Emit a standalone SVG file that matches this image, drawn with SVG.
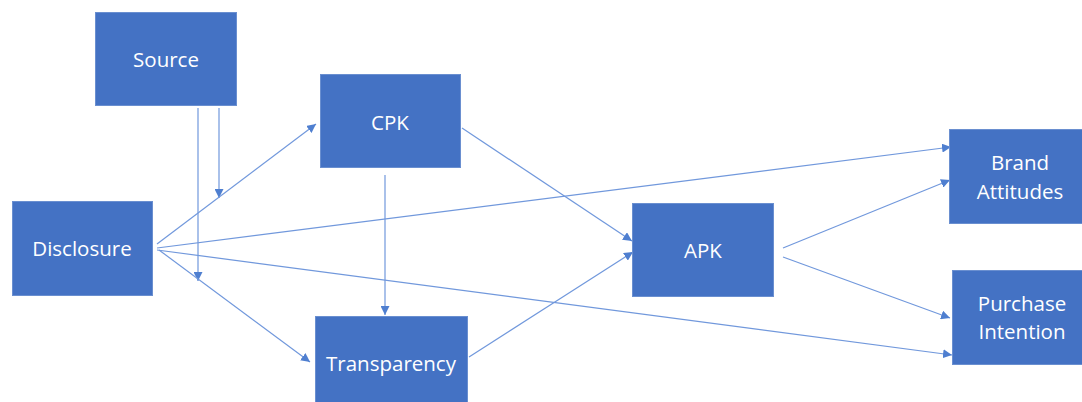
<svg xmlns="http://www.w3.org/2000/svg" width="1082" height="402" viewBox="0 0 1082 402">
<style>
.box{fill:#4472C4;stroke:#6a8fd0;stroke-width:1}
.lbl{fill:#ffffff;font-family:"Open Sans","Liberation Sans",sans-serif;font-size:20.5px;text-anchor:middle}
.c{stroke:#7198dc;stroke-width:1.2;fill:none;marker-end:url(#ah)}
</style>
<defs>
<marker id="ah" viewBox="0 0 10 10" refX="10" refY="5" markerWidth="9" markerHeight="9" markerUnits="userSpaceOnUse" orient="auto">
<path d="M0,0 L10,5 L0,10 z" fill="#4f7fd0"/>
</marker>
</defs>
<rect width="1082" height="402" fill="#ffffff"/>
<g id="connectors">
<line class="c" x1="219" y1="108" x2="219" y2="198"/>
<line class="c" x1="198" y1="108" x2="198" y2="281"/>
<line class="c" x1="157" y1="244" x2="316" y2="124"/>
<line class="c" x1="159" y1="250" x2="310" y2="362"/>
<line class="c" x1="157" y1="248" x2="951" y2="147"/>
<line class="c" x1="157" y1="250" x2="952" y2="355"/>
<line class="c" x1="462" y1="128" x2="632" y2="241"/>
<line class="c" x1="385" y1="175" x2="385" y2="315"/>
<line class="c" x1="469" y1="357" x2="633" y2="252"/>
<line class="c" x1="783" y1="248" x2="950" y2="180"/>
<line class="c" x1="783" y1="257" x2="950" y2="318"/>
</g>
<g id="source"><rect class="box" x="95.5" y="12.5" width="141" height="93"/><text class="lbl" x="166" y="67">Source</text></g>
<g id="disclosure"><rect class="box" x="12.5" y="201.5" width="140" height="94"/><text class="lbl" x="82" y="256">Disclosure</text></g>
<g id="cpk"><rect class="box" x="320.5" y="74.5" width="140" height="93"/><text class="lbl" x="390" y="130">CPK</text></g>
<g id="transparency"><rect class="box" x="315.5" y="316.5" width="152" height="90"/><text class="lbl" x="391" y="371">Transparency</text></g>
<g id="apk"><rect class="box" x="632.5" y="203.5" width="141" height="93"/><text class="lbl" x="703" y="258">APK</text></g>
<g id="brand"><rect class="box" x="949.5" y="129.5" width="140" height="94"/><text class="lbl" x="1020" y="170">Brand</text><text class="lbl" x="1020" y="199">Attitudes</text></g>
<g id="purchase"><rect class="box" x="952.5" y="270.5" width="140" height="94"/><text class="lbl" x="1022" y="311">Purchase</text><text class="lbl" x="1022" y="339">Intention</text></g>
</svg>
